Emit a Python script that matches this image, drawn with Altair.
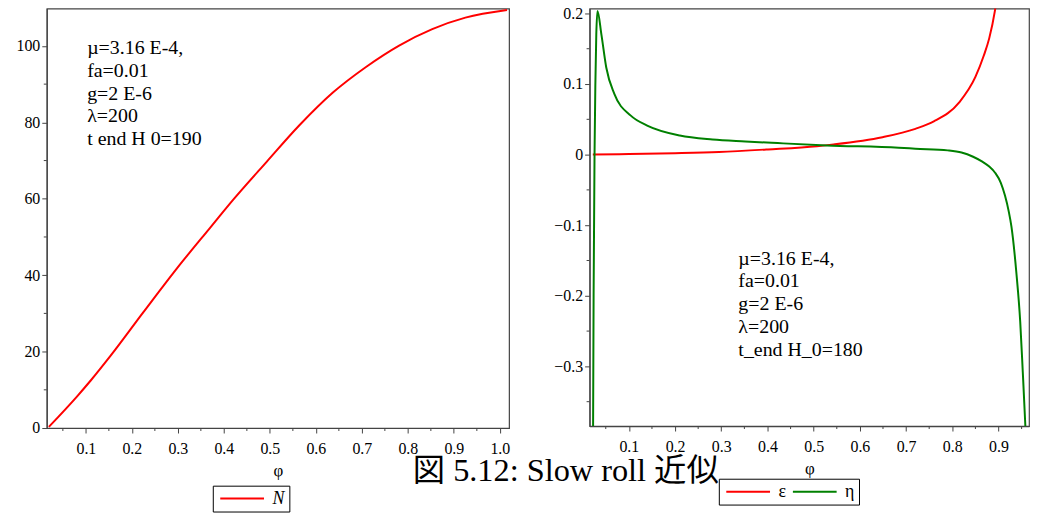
import altair as alt
import pandas as pd

# ---------------- data ----------------
phi_N = [0.0195, 0.081, 0.111, 0.153, 0.2255, 0.298, 0.370, 0.420, 0.4925,
         0.5647, 0.637, 0.709, 0.781, 0.853, 0.925, 1.0156]
N_vals = [0.3, 8.3, 12.5, 18.8, 30.4, 41.8, 52.4, 59.7, 69.6,
          79.3, 87.8, 94.5, 100.1, 104.4, 107.4, 109.4]

phi_eps = [0.022, 0.1, 0.2, 0.295, 0.401, 0.507, 0.543, 0.649, 0.72,
           0.76, 0.815, 0.85, 0.868, 0.88, 0.892, 0.90]
eps_vals = [0.0, 0.0008, 0.002, 0.0037, 0.0074, 0.012, 0.0145, 0.0247, 0.0365,
            0.047, 0.074, 0.11, 0.14, 0.165, 0.203, 0.24]

phi_eta = [0.0222, 0.0237, 0.0257, 0.0275, 0.0295, 0.0321, 0.0406, 0.0512,
           0.0688, 0.1042, 0.1397, 0.2103, 0.281, 0.352, 0.422, 0.5287,
           0.684, 0.72, 0.79, 0.82, 0.845, 0.865, 0.88, 0.893, 0.905, 0.914,
           0.922, 0.928, 0.9386, 0.947, 0.9525, 0.958, 0.961]
eta_vals = [-0.45, -0.2, 0.0, 0.1, 0.17, 0.2036, 0.170, 0.123,
            0.0857, 0.0552, 0.0412, 0.0271, 0.0215, 0.0187, 0.0163, 0.013,
            0.0098, 0.0084, 0.006, 0.003, -0.003, -0.010, -0.017, -0.026, -0.040, -0.058,
            -0.080, -0.102, -0.167, -0.237, -0.3076, -0.383, -0.43]

legend_left = ["N"]
legend_right = ["ε", "η"]
colors_left = ["#ff0000"]
colors_right = ["#ff0000", "#008000"]

# labelled (major) ticks
xmaj_left = [0.1, 0.2, 0.3, 0.4, 0.5, 0.6, 0.7, 0.8, 0.9, 1.0]
xmaj_right = [0.1, 0.2, 0.3, 0.4, 0.5, 0.6, 0.7, 0.8, 0.9]
ymaj_left = [0, 20, 40, 60, 80, 100]
ymaj_right = [-0.3, -0.2, -0.1, 0, 0.1, 0.2]
# unlabelled (minor) ticks
xmin_left = [0.05, 0.15, 0.25, 0.35, 0.45, 0.55, 0.65, 0.75, 0.85, 0.95]
xmin_right = [0.05, 0.15, 0.25, 0.35, 0.45, 0.55, 0.65, 0.75, 0.85, 0.95]
ymin_left = [10, 30, 50, 70, 90]
ymin_right = [-0.35, -0.25, -0.15, -0.05, 0.05, 0.15]

ann_left = ["µ=3.16 E-4,", "fa=0.01", "g=2 E-6", "λ=200", "t  end H  0=190"]
ann_right = ["µ=3.16 E-4,", "fa=0.01", "g=2 E-6", "λ=200", "t_end H_0=180"]
ann_left_pos = [0.1028, 102.1]
ann_right_pos = [0.337, -0.1332]
caption = "図 5.12: Slow roll 近似"
axis_title = "φ"

SERIF = "Liberation Serif"
CAPFONT = "Liberation Serif, Noto Sans CJK JP"
AXC = "#444"

W_L, H_L = 465, 422
W_R, H_R = 442, 420

# ---------------- tables ----------------
df_N = pd.DataFrame({"phi": phi_N, "val": N_vals, "series": legend_left[0]})
df_R = pd.concat([
    pd.DataFrame({"phi": phi_eps, "val": eps_vals, "series": legend_right[0]}),
    pd.DataFrame({"phi": phi_eta, "val": eta_vals, "series": legend_right[1]}),
])
df_annL = pd.DataFrame({"x": [ann_left_pos[0]], "y": [ann_left_pos[1]], "t": ["\n".join(ann_left)]})
df_annR = pd.DataFrame({"x": [ann_right_pos[0]], "y": [ann_right_pos[1]], "t": ["\n".join(ann_right)]})
df_cap = pd.DataFrame({"t": [caption]})

xs_l = alt.Scale(domain=[0.015, 1.02], nice=False, zero=False)
ys_l = alt.Scale(domain=[0, 109.8], nice=False, zero=False)
xs_r = alt.Scale(domain=[0.015, 0.966], nice=False, zero=False)
ys_r = alt.Scale(domain=[-0.3845, 0.207], nice=False, zero=False)

ax_xl = alt.Axis(values=xmaj_left, format=".1f", title=axis_title, labelOverlap=False,
                 labelFlush=False, tickSize=5, labelPadding=8, titlePadding=6)
ax_yl = alt.Axis(values=ymaj_left, format="d", title=None, labelOverlap=False,
                 labelFlush=False, tickSize=5, labelPadding=2)
ax_xr = alt.Axis(values=xmaj_right, format=".1f", title=axis_title, labelOverlap=False,
                 labelFlush=False, tickSize=5, labelPadding=8, titlePadding=6)
ax_yr = alt.Axis(values=ymaj_right, format=".1~f", title=None, labelOverlap=False,
                 labelFlush=False, tickSize=5, labelPadding=2)

# a long horizontal stroke as the legend symbol (44 px wide)
leg_common = dict(orient="none", direction="horizontal", title=None, symbolType="M-1,0H7",
                  symbolSize=121, symbolStrokeWidth=2, strokeColor="black", padding=4,
                  labelFont=SERIF, labelFontSize=18, labelColor="black", labelOffset=38,
                  columnPadding=2)


def minor_ticks(xvals, yvals, xs, ys, h):
    tx = alt.Chart(pd.DataFrame({"v": xvals})).mark_rule(color=AXC, strokeWidth=1).encode(
        x=alt.X("v:Q", scale=xs), y=alt.value(h), y2=alt.value(h + 3))
    ty = alt.Chart(pd.DataFrame({"v": yvals})).mark_rule(color=AXC, strokeWidth=1).encode(
        y=alt.Y("v:Q", scale=ys), x=alt.value(0), x2=alt.value(-3))
    return [tx, ty]


ann_style = dict(align="left", baseline="top", lineBreak="\n", lineHeight=23,
                 font=SERIF, fontSize=20, color="black")

left_line = alt.Chart(df_N).mark_line(strokeWidth=2, clip=True, interpolate="monotone").encode(
    x=alt.X("phi:Q", scale=xs_l, axis=ax_xl),
    y=alt.Y("val:Q", scale=ys_l, axis=ax_yl),
    color=alt.Color("series:N", scale=alt.Scale(domain=legend_left, range=colors_left),
                    legend=alt.Legend(legendX=167, legendY=480, labelFontStyle="italic", **leg_common)),
)
left_ann = alt.Chart(df_annL).mark_text(**ann_style).encode(
    x=alt.X("x:Q", scale=xs_l), y=alt.Y("y:Q", scale=ys_l), text="t:N")
left = alt.layer(left_line, left_ann, *minor_ticks(xmin_left, ymin_left, xs_l, ys_l, H_L)).properties(
    width=W_L, height=H_L)

right_line = alt.Chart(df_R).mark_line(strokeWidth=2, clip=True, interpolate="monotone").encode(
    x=alt.X("phi:Q", scale=xs_r, axis=ax_xr),
    y=alt.Y("val:Q", scale=ys_r, axis=ax_yr),
    color=alt.Color("series:N", scale=alt.Scale(domain=legend_right, range=colors_right),
                    sort=legend_right,
                    legend=alt.Legend(legendX=130, legendY=473, labelFontStyle="normal", **leg_common)),
)
right_ann = alt.Chart(df_annR).mark_text(**ann_style).encode(
    x=alt.X("x:Q", scale=xs_r), y=alt.Y("y:Q", scale=ys_r), text="t:N")
cap = alt.Chart(df_cap).mark_text(align="center", baseline="alphabetic", font=CAPFONT,
                                  fontSize=32.5, color="black").encode(
    x=alt.value(-24), y=alt.value(475), text="t:N")
right = alt.layer(right_line, right_ann, cap, *minor_ticks(xmin_right, ymin_right, xs_r, ys_r, H_R)).properties(
    width=W_R, height=H_R)

chart = alt.hconcat(left, right, spacing=81, bounds="flush").resolve_scale(color="independent").properties(
    padding={"left": 7, "top": -5, "right": 0, "bottom": 0}
).configure_view(stroke=AXC, strokeWidth=1.2).configure_axis(
    labelFont=SERIF, labelFontSize=16, labelColor="black", tickColor=AXC, domainColor=AXC,
    domainWidth=1.2, tickWidth=1, grid=False, titleFont=SERIF, titleFontSize=17,
    titleFontWeight="normal", titleColor="black"
)

chart.save("out.html", embed_options={"renderer": "svg", "actions": False})
